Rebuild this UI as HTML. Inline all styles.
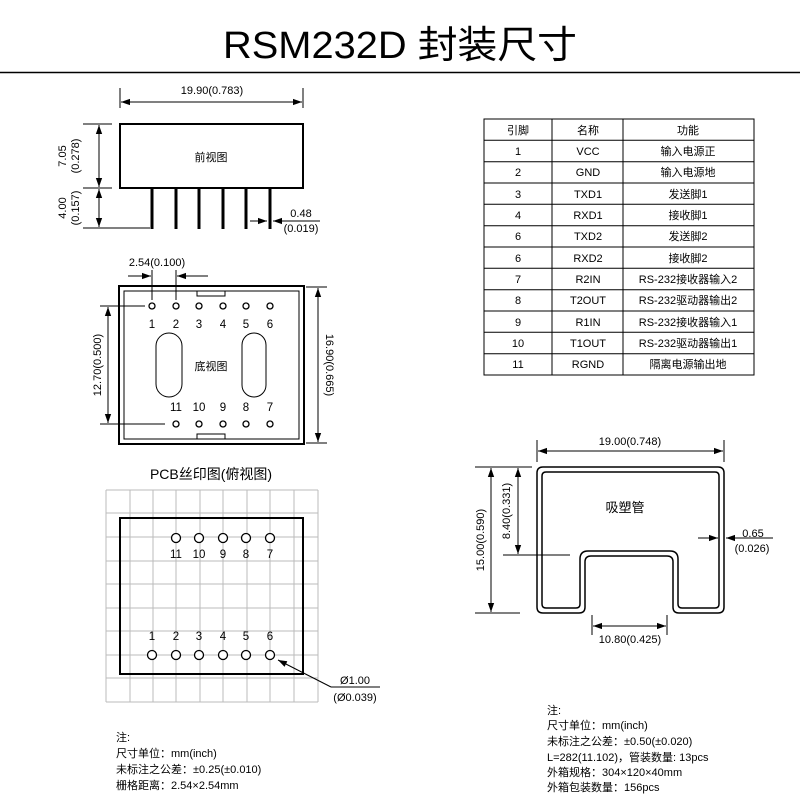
<!DOCTYPE html>
<html><head><meta charset="utf-8"><style>
html,body{margin:0;padding:0;background:#fff;}
svg{display:block;font-family:"Liberation Sans","Noto Sans CJK SC",sans-serif;}
</style></head><body>
<svg width="800" height="800" viewBox="0 0 800 800" xmlns="http://www.w3.org/2000/svg">
<defs>
<marker id="a" viewBox="0 0 10 10" refX="10" refY="5" markerWidth="9" markerHeight="9" markerUnits="userSpaceOnUse" orient="auto-start-reverse"><path d="M0,1.5 L10,5 L0,8.5 Z" fill="#000"/></marker>
</defs>
<rect width="800" height="800" fill="#fff"/>
<text x="400" y="58" font-size="38" text-anchor="middle" textLength="354" lengthAdjust="spacingAndGlyphs">RSM232D 封装尺寸</text>
<line x1="0" y1="72.5" x2="800" y2="72.5" stroke="#000" stroke-width="1.5"/>

<g stroke="#000" fill="none" stroke-width="1">
<rect x="120" y="124" width="183" height="64" stroke-width="2"/>
<line x1="120" y1="88" x2="120" y2="108"/><line x1="303" y1="88" x2="303" y2="108"/>
<line x1="121" y1="102" x2="302" y2="102" marker-start="url(#a)" marker-end="url(#a)"/>
<line x1="83" y1="124" x2="112" y2="124"/><line x1="83" y1="188" x2="112" y2="188"/><line x1="83" y1="228" x2="150" y2="228"/>
<line x1="99" y1="125" x2="99" y2="187" marker-start="url(#a)" marker-end="url(#a)"/>
<line x1="99" y1="189" x2="99" y2="227" marker-start="url(#a)" marker-end="url(#a)"/>
<g stroke-width="3"><line x1="152" y1="188" x2="152" y2="229"/><line x1="176" y1="188" x2="176" y2="229"/><line x1="199" y1="188" x2="199" y2="229"/><line x1="223" y1="188" x2="223" y2="229"/><line x1="246" y1="188" x2="246" y2="229"/><line x1="270" y1="188" x2="270" y2="229"/></g>
<line x1="250" y1="221" x2="267" y2="221" marker-end="url(#a)"/>
<line x1="320" y1="221" x2="273" y2="221" marker-end="url(#a)"/>

<rect x="119" y="286" width="185" height="158" stroke-width="2"/>
<rect x="124" y="291" width="175" height="148"/>
<path d="M197,291 V296 H225 V291 M197,439 V434 H225 V439"/>
<rect x="156" y="333" width="26" height="64" rx="13"/>
<rect x="242" y="333" width="24" height="64" rx="12"/>
<g stroke-width="1.3">
<circle cx="152" cy="306" r="3"/><circle cx="176" cy="306" r="3"/><circle cx="199" cy="306" r="3"/><circle cx="223" cy="306" r="3"/><circle cx="246" cy="306" r="3"/><circle cx="270" cy="306" r="3"/>
<circle cx="176" cy="424" r="3"/><circle cx="199" cy="424" r="3"/><circle cx="223" cy="424" r="3"/><circle cx="246" cy="424" r="3"/><circle cx="270" cy="424" r="3"/>
</g>
<line x1="152" y1="270" x2="152" y2="300"/><line x1="176" y1="270" x2="176" y2="300"/>
<line x1="128" y1="276" x2="151" y2="276" marker-end="url(#a)"/>
<line x1="208" y1="276" x2="177" y2="276" marker-end="url(#a)"/>
<line x1="100" y1="306" x2="145" y2="306"/><line x1="100" y1="424" x2="165" y2="424"/>
<line x1="108" y1="307" x2="108" y2="423" marker-start="url(#a)" marker-end="url(#a)"/>
<line x1="306" y1="287" x2="327" y2="287"/><line x1="306" y1="443" x2="327" y2="443"/>
<line x1="318" y1="288" x2="318" y2="442" marker-start="url(#a)" marker-end="url(#a)"/>

<g stroke="#bbb">
<line x1="106" y1="490" x2="106" y2="702"/><line x1="130" y1="490" x2="130" y2="702"/><line x1="153" y1="490" x2="153" y2="702"/><line x1="176" y1="490" x2="176" y2="702"/><line x1="200" y1="490" x2="200" y2="702"/><line x1="223" y1="490" x2="223" y2="702"/><line x1="247" y1="490" x2="247" y2="702"/><line x1="270" y1="490" x2="270" y2="702"/><line x1="294" y1="490" x2="294" y2="702"/><line x1="318" y1="490" x2="318" y2="702"/>
<line x1="106" y1="490" x2="318" y2="490"/><line x1="106" y1="513" x2="318" y2="513"/><line x1="106" y1="537" x2="318" y2="537"/><line x1="106" y1="561" x2="318" y2="561"/><line x1="106" y1="584" x2="318" y2="584"/><line x1="106" y1="608" x2="318" y2="608"/><line x1="106" y1="631" x2="318" y2="631"/><line x1="106" y1="655" x2="318" y2="655"/><line x1="106" y1="678" x2="318" y2="678"/><line x1="106" y1="702" x2="318" y2="702"/>
</g>
<rect x="120" y="518" width="183" height="156" stroke-width="2"/>
<g stroke-width="1.3" fill="#fff">
<circle cx="176" cy="538" r="4.5"/><circle cx="199" cy="538" r="4.5"/><circle cx="223" cy="538" r="4.5"/><circle cx="246" cy="538" r="4.5"/><circle cx="270" cy="538" r="4.5"/>
<circle cx="152" cy="655" r="4.5"/><circle cx="176" cy="655" r="4.5"/><circle cx="199" cy="655" r="4.5"/><circle cx="223" cy="655" r="4.5"/><circle cx="246" cy="655" r="4.5"/><circle cx="270" cy="655" r="4.5"/>
</g>
<line x1="331" y1="687" x2="278" y2="660" marker-end="url(#a)"/>
<line x1="331" y1="687" x2="380" y2="687"/>

<rect x="484" y="119" width="270" height="256"/>
<line x1="552" y1="119" x2="552" y2="375"/><line x1="623" y1="119" x2="623" y2="375"/>
<line x1="484" y1="140.3" x2="754" y2="140.3"/><line x1="484" y1="161.7" x2="754" y2="161.7"/><line x1="484" y1="183" x2="754" y2="183"/><line x1="484" y1="204.3" x2="754" y2="204.3"/><line x1="484" y1="225.7" x2="754" y2="225.7"/><line x1="484" y1="247" x2="754" y2="247"/><line x1="484" y1="268.3" x2="754" y2="268.3"/><line x1="484" y1="289.7" x2="754" y2="289.7"/><line x1="484" y1="311" x2="754" y2="311"/><line x1="484" y1="332.3" x2="754" y2="332.3"/><line x1="484" y1="353.7" x2="754" y2="353.7"/>

<path d="M543,467 H718 Q724,467 724,473 V607 Q724,613 718,613 H679 Q673,613 673,607 V562 Q673,556 667,556 H591 Q585,556 585,562 V607 Q585,613 579,613 H543 Q537,613 537,607 V473 Q537,467 543,467 Z" stroke-width="1.5"/>
<path d="M546,472 H715 Q719,472 719,476 V604 Q719,608 715,608 H682 Q678,608 678,604 V559 Q678,551 670,551 H588 Q580,551 580,559 V604 Q580,608 576,608 H546 Q542,608 542,604 V476 Q542,472 546,472 Z" stroke-width="1.5"/>
<line x1="537" y1="440" x2="537" y2="462"/><line x1="724" y1="440" x2="724" y2="462"/>
<line x1="538" y1="451" x2="723" y2="451" marker-start="url(#a)" marker-end="url(#a)"/>
<line x1="475" y1="467" x2="532" y2="467"/><line x1="475" y1="613" x2="520" y2="613"/><line x1="503" y1="555" x2="570" y2="555"/>
<line x1="491" y1="468" x2="491" y2="612" marker-start="url(#a)" marker-end="url(#a)"/>
<line x1="518" y1="468" x2="518" y2="554" marker-start="url(#a)" marker-end="url(#a)"/>
<line x1="698" y1="538" x2="718" y2="538" marker-end="url(#a)"/>
<line x1="752" y1="538" x2="726" y2="538" marker-end="url(#a)"/>
<line x1="752" y1="538" x2="773" y2="538"/>
<line x1="592" y1="615" x2="592" y2="635"/><line x1="667" y1="615" x2="667" y2="635"/>
<line x1="593" y1="626" x2="666" y2="626" marker-start="url(#a)" marker-end="url(#a)"/>
</g>

<g font-size="11" fill="#000" text-anchor="middle">
<text x="212" y="94">19.90(0.783)</text>
<text x="211" y="161">前视图</text>
<text transform="translate(66,156) rotate(-90)">7.05</text>
<text transform="translate(79,156) rotate(-90)">(0.278)</text>
<text transform="translate(66,208) rotate(-90)">4.00</text>
<text transform="translate(79,208) rotate(-90)">(0.157)</text>
<text x="301" y="217">0.48</text>
<text x="301" y="232">(0.019)</text>

<text x="157" y="266">2.54(0.100)</text>
<text x="211" y="370">底视图</text>
<g font-size="11.5">
<text x="152" y="328">1</text><text x="176" y="328">2</text><text x="199" y="328">3</text><text x="223" y="328">4</text><text x="246" y="328">5</text><text x="270" y="328">6</text>
<text x="176" y="411">11</text><text x="199" y="411">10</text><text x="223" y="411">9</text><text x="246" y="411">8</text><text x="270" y="411">7</text>
<text x="176" y="558">11</text><text x="199" y="558">10</text><text x="223" y="558">9</text><text x="246" y="558">8</text><text x="270" y="558">7</text>
<text x="152" y="640">1</text><text x="176" y="640">2</text><text x="199" y="640">3</text><text x="223" y="640">4</text><text x="246" y="640">5</text><text x="270" y="640">6</text>
</g>
<text transform="translate(101,365) rotate(-90)">12.70(0.500)</text>
<text transform="translate(326,365) rotate(90)">16.90(0.665)</text>
<text x="211" y="479" font-size="14">PCB丝印图(俯视图)</text>
<text x="355" y="684">Ø1.00</text>
<text x="355" y="701">(Ø0.039)</text>

<text x="518" y="134">引脚</text><text x="588" y="134">名称</text><text x="688" y="134">功能</text>
<text x="518" y="155">1</text><text x="588" y="155">VCC</text><text x="688" y="155">输入电源正</text>
<text x="518" y="176">2</text><text x="588" y="176">GND</text><text x="688" y="176">输入电源地</text>
<text x="518" y="198">3</text><text x="588" y="198">TXD1</text><text x="688" y="198">发送脚1</text>
<text x="518" y="219">4</text><text x="588" y="219">RXD1</text><text x="688" y="219">接收脚1</text>
<text x="518" y="240">6</text><text x="588" y="240">TXD2</text><text x="688" y="240">发送脚2</text>
<text x="518" y="262">6</text><text x="588" y="262">RXD2</text><text x="688" y="262">接收脚2</text>
<text x="518" y="283">7</text><text x="588" y="283">R2IN</text><text x="688" y="283">RS-232接收器输入2</text>
<text x="518" y="304">8</text><text x="588" y="304">T2OUT</text><text x="688" y="304">RS-232驱动器输出2</text>
<text x="518" y="326">9</text><text x="588" y="326">R1IN</text><text x="688" y="326">RS-232接收器输入1</text>
<text x="518" y="347">10</text><text x="588" y="347">T1OUT</text><text x="688" y="347">RS-232驱动器输出1</text>
<text x="518" y="368">11</text><text x="588" y="368">RGND</text><text x="688" y="368">隔离电源输出地</text>

<text x="630" y="445">19.00(0.748)</text>
<text transform="translate(484,540) rotate(-90)">15.00(0.590)</text>
<text transform="translate(510,511) rotate(-90)">8.40(0.331)</text>
<text x="625" y="512" font-size="13">吸塑管</text>
<text x="753" y="537">0.65</text>
<text x="752" y="552">(0.026)</text>
<text x="630" y="643">10.80(0.425)</text>
</g>

<g font-size="11" fill="#000">
<text x="116" y="741">注:</text>
<text x="116" y="757">尺寸单位：mm(inch)</text>
<text x="116" y="773">未标注之公差：±0.25(±0.010)</text>
<text x="116" y="789">栅格距离：2.54×2.54mm</text>
<text x="547" y="714">注:</text>
<text x="547" y="729">尺寸单位：mm(inch)</text>
<text x="547" y="745">未标注之公差：±0.50(±0.020)</text>
<text x="547" y="761">L=282(11.102)，管装数量: 13pcs</text>
<text x="547" y="776">外箱规格：304×120×40mm</text>
<text x="547" y="791">外箱包装数量：156pcs</text>
</g>
</svg>
</body></html>
